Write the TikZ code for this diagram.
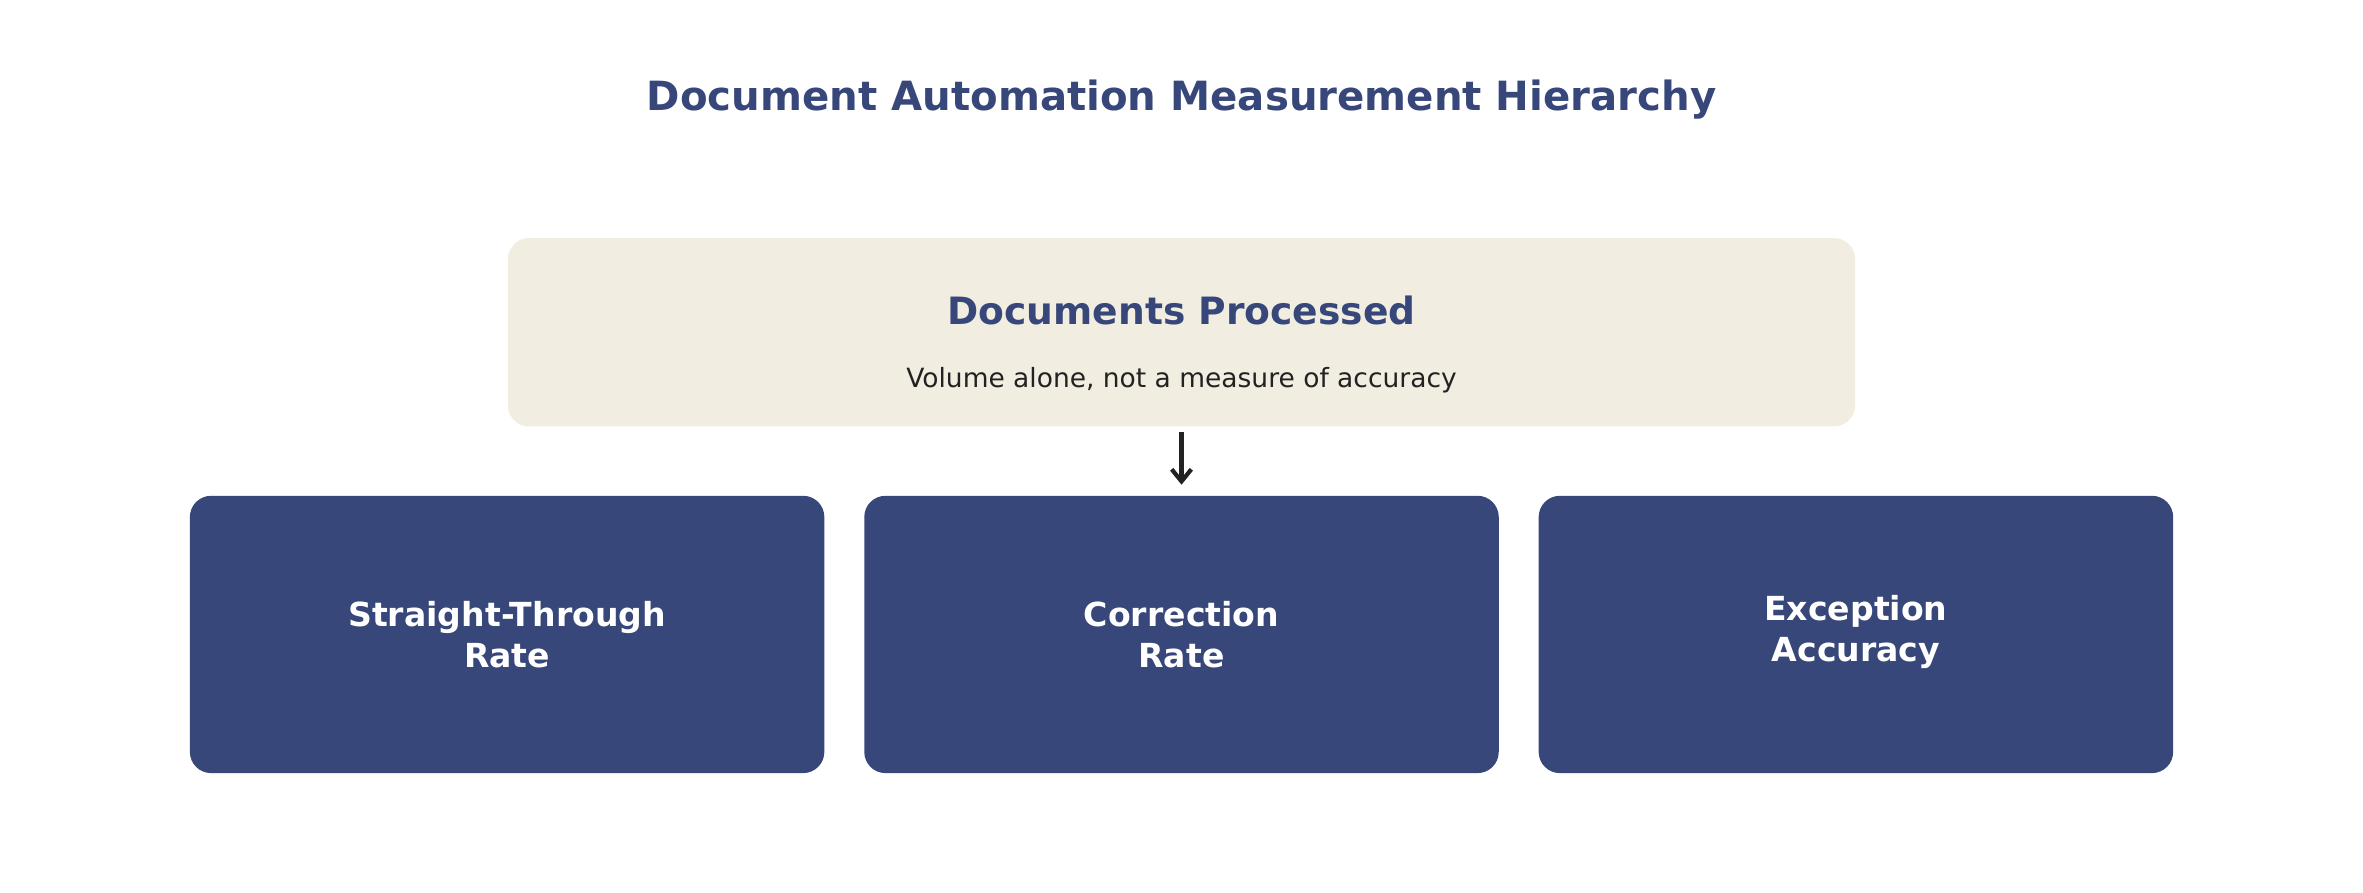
\documentclass[tikz,border=0pt]{standalone}
\usepackage{fontspec}
\setmainfont{DejaVu Sans}
\usetikzlibrary{positioning,arrows.meta}
\definecolor{navy}{HTML}{37477A}
\definecolor{beige}{HTML}{F2EDE1}
\definecolor{ink}{HTML}{222222}
\tikzset{
  metric/.style={fill=navy, rounded corners=8pt, minimum width=8.42cm, minimum height=3.68cm,
    text=white, font=\fontsize{12.5}{15.5}\selectfont\bfseries, align=center, inner sep=0pt},
  volume/.style={fill=beige, rounded corners=8pt, minimum width=17.88cm, minimum height=2.5cm, inner sep=0pt},
}
\begin{document}
\begin{tikzpicture}
\useasboundingbox (0,0) rectangle (31.36,-11.84);
\node[text=navy, font=\fontsize{15.2}{18}\selectfont\bfseries] (title) at (15.68,-1.32) {Document Automation Measurement Hierarchy};
\node[volume] (docs) at (15.68,-4.41) {};
\node[text=navy, font=\fontsize{14.2}{17}\selectfont\bfseries] (docstitle) at (15.68,-4.12) {Documents Processed};
\node[text=ink, font=\fontsize{10}{12}\selectfont] (docsnote) at (15.68,-5.04) {Volume alone, not a measure of accuracy};
\node[metric] (str) at (6.73,-8.42) {Straight-Through\\Rate};
\node[metric] (cor) at (15.68,-8.42) {Correction\\Rate};
\node[metric] (exc) at (24.63,-8.42) {Exception\\Accuracy\strut};
\draw[ink, line width=1.6pt, -{Straight Barb[length=1.6mm,width=2.6mm]}] ([yshift=-0.06cm]docs.south) -- ([yshift=0.14cm]cor.north);
\end{tikzpicture}
\end{document}
